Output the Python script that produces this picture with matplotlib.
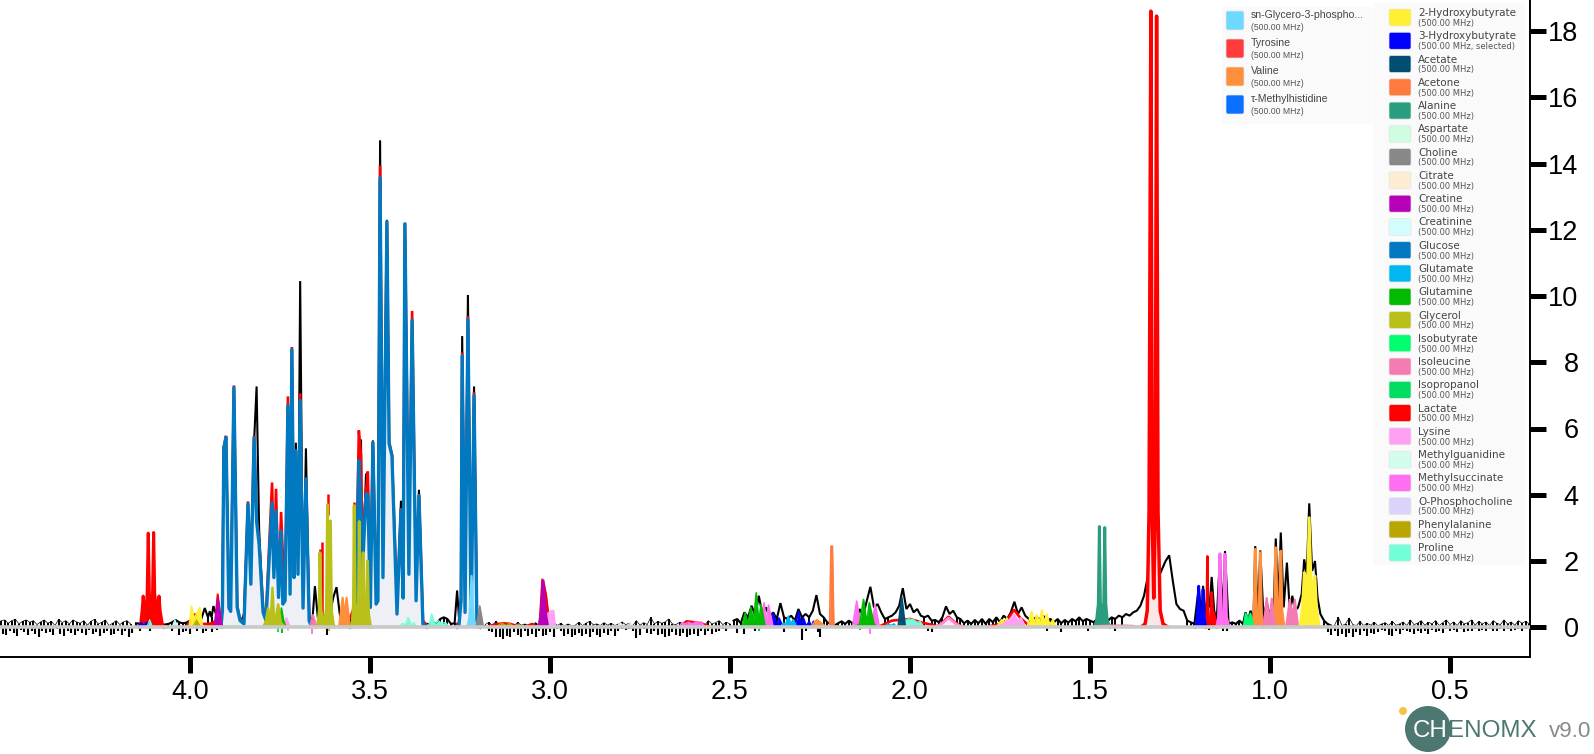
import numpy as np
import matplotlib
matplotlib.use("Agg")
import matplotlib.pyplot as plt
from matplotlib.patches import FancyBboxPatch, Rectangle, Circle

# ---------- legend contents ----------
legend_left_names = ["sn-Glycero-3-phospho...", "Tyrosine", "Valine", "τ-Methylhistidine"]
legend_left_colors = ["#6fd8ff", "#ff3b3b", "#ff8f3a", "#0a70ff"]
legend_right_names = ["2-Hydroxybutyrate", "3-Hydroxybutyrate", "Acetate", "Acetone", "Alanine", "Aspartate",
                      "Choline", "Citrate", "Creatine", "Creatinine", "Glucose", "Glutamate", "Glutamine",
                      "Glycerol", "Isobutyrate", "Isoleucine", "Isopropanol", "Lactate", "Lysine",
                      "Methylguanidine", "Methylsuccinate", "O-Phosphocholine", "Phenylalanine", "Proline"]
legend_right_colors = ["#fff033", "#0000ff", "#004f73", "#ff7a3d", "#2a9d7f", "#d0fde2", "#888888", "#feecd2",
                       "#b800b8", "#d2fdfd", "#0079c1", "#00b7f1", "#00bb00", "#b9c01a", "#00ff6e", "#f47ab2",
                       "#00dd60", "#ff0000", "#ffa0f2", "#d2fdec", "#ff6ef0", "#dcd2fa", "#baa600", "#70ffd8"]
y_ticks = [0, 2, 4, 6, 8, 10, 12, 14, 16, 18]
x_ticks = [4.0, 3.5, 3.0, 2.5, 2.0, 1.5, 1.0, 0.5]

# ---------- main sugar clusters: vertices, fit, sum of fits, observed ----------
cl_a_ppm = [3.914,3.91,3.906,3.900,3.892,3.887,3.878,3.869,3.861,3.85,3.839,3.831,3.822,3.815,3.808,3.797,3.789,
            3.772,3.767,3.761,3.754,3.747,3.742,3.736,3.728,3.722,3.717,3.711,3.706,3.7,3.694,3.686,3.678,3.669,3.664]
cl_a_glc = [.02,.5,5.42,5.73,.58,.48,7.24,.6,.2,.1,3.72,1.3,5.72,3.2,2.5,.45,.2,
            3.75,1.5,3.5,.9,2.9,.7,.8,6.7,1.0,8.39,1.5,5.33,1.6,6.85,.58,4.48,.2,.05]
cl_a_sum = [.1,.5,5.45,5.78,.6,.5,7.3,.65,.25,.15,3.8,1.6,5.78,3.3,2.55,.6,.35,
            4.37,1.8,4.18,1.0,3.48,2.15,.9,6.97,1.2,8.46,1.7,5.35,1.8,7.06,.7,4.5,.35,.1]
cl_a_obs = [.1,.5,5.4,5.7,.5,.45,7.2,.5,.1,.4,3.6,1.2,5.6,7.27,2.97,.4,.2,
            3.7,1.4,3.4,.8,2.8,.6,.7,6.6,.9,8.3,1.4,5.57,1.5,10.45,.55,5.4,.3,.25]

cl_b_ppm = [3.555,3.54,3.531,3.525,3.522,3.511,3.506,3.499,3.492,3.483,3.478,3.472,3.464,3.453,3.447,3.439,
            3.425,3.414,3.408,3.403,3.392,3.383,3.372,3.364,3.353,3.342]
cl_b_glc = [0,.1,5.03,3.5,1.5,4.03,4.0,.6,5.57,.7,.8,13.57,1.5,12.24,5.55,5.18,
            .4,3.53,.88,12.18,1.6,9.27,.8,3.97,.1,0]
cl_b_sum = [.3,.7,5.94,5.2,2.6,4.1,4.7,.9,5.6,1.2,1.2,13.94,2.1,12.24,5.6,5.2,
            .6,3.6,1.0,12.2,2.0,9.55,1.0,4.0,.2,.05]
cl_b_obs = [.2,.5,5.0,5.67,1.4,4.64,3.9,.5,5.64,.6,.7,14.7,1.2,12.3,5.27,5.27,
            .3,3.82,.8,12.15,1.3,9.2,.7,4.15,.1,.1]

cl_c_ppm = [3.258,3.253,3.247,3.244,3.236,3.228,3.219,3.211,3.203,3.194]
cl_c_glc = [0,.05,.8,8.2,.45,9.3,.1,7.0,.05,0]
cl_c_sum = [.1,.1,.9,8.3,.7,9.4,.3,7.1,.15,.05]
cl_c_obs = [1.11,.3,.9,8.79,.4,10.03,.1,7.27,.1,.1]

# ---------- observed spectrum, positive side, by region ----------
obs_1_ppm = [4.525,4.515,4.505,4.495,4.485,4.475,4.465,4.455,4.445,4.435,4.425,4.415,4.405,4.395,4.385,4.375,4.365,4.355,4.345,
             4.335,4.325,4.315,4.305,4.295,4.285,4.275,4.265,4.255,4.245,4.235,4.225,4.215,4.205,4.195,4.185,4.175,4.165,
             4.15,4.13,4.11,4.09,4.06,4.05,4.04,4.03,4.02,4.01,4.0,3.99,3.98,3.97,3.959,3.95,3.945,3.94,3.935,3.925]
obs_1_y = [.2,.22,.12,.2,.24,.1,.18,.22,.15,.2,.08,.16,.22,.12,.18,.05,.24,.14,.2,
           .1,.22,.16,.12,.2,.06,.18,.24,.1,.15,.22,.05,.12,.2,.08,.16,.2,.1,
           .12,.1,.08,.05,.1,.15,.22,.15,.12,.14,.2,.3,.2,.2,.58,.3,.48,.3,.64,.3]
obs_gap1_ppm = [3.66,3.653,3.645,3.635,3.625,3.615,3.602,3.593,3.584,3.575,3.565,3.556]
obs_gap1_y = [.2,1.24,.3,.2,.35,.2,.9,1.21,.4,.1,.1,.2]
obs_gap2_ppm = [3.335,3.325,3.315,3.305,3.295,3.285,3.275,3.265]
obs_gap2_y = [.1,.15,.1,.25,.3,.25,.1,.12]
obs_2_y = [.1,.08,.15,.05,.18,.06,.1,.05,.12,.04,.15,.06,.1,.05,.08,.14,.05,.12,.05,.08,.16,.05,.12,.04,.1,
           .05,.06,.15,.05,.12,.18,.08,.1,.05,.14,.06,.12,.05,.1,.16,.08,.12,.05,.2,.06,.14,.08,.3,.1,.18,
           .12,.16,.25,.1,.08,.15,.05,.12,.18,.08,.1,.16,.06,.2,.1,.14,.2,.08,.15,.1,.2]
obs_3_y = [.25,.12,.45,.3,.65,.35,.95,.4,.6,.3,.45,.25,.73,.3,.25,.35,.2,.55,.3,.4,.3,.5,.97,.4,.3,.15,.1,.05,.12,.18,
           .1,.2,.12,.15,.55,.35,.8,1.22,.6,.7,.45,.25,.3,.35,.45,.65,1.18,.55,.7,.45,.55,.35,.3,.35,.2,.22,.15,.3,
           .63,.4,.5,.3,.25,.12,.2,.1,.22,.12,.25,.1,.25,.15,.3,.15,.35,.25,.45,.77,.4,.6,.35,.25,.2,.3,.25,.35,.2,
           .25,.15,.25,.12,.22,.14,.25,.18,.3,.18,.25,.2]
obs_4_y = [.15,.25,.2,.3,.2,.3,.25,.35,.3,.4,.35,.45,.5,.65,.95,1.5,2.0,1.5,1.5,1.75,2.0,2.17,1.4,.7,.55,.5,.2,.15]
obs_5_ppm = [1.21,1.198,1.19,1.186,1.178,1.174,1.168,1.162,1.155,1.148,1.139,1.132,1.125,1.115,1.105,1.095,1.085,1.075,
             1.068,1.061,1.054,1.046,1.041,1.034,1.027,1.018,1.009,1.0,.995,.99,.984,.977,.970,.962,.953,.945,.938,.931,
             .922,.912,.905,.898,.891,.883,.875,.868,.86,.85,.84]
obs_5_y = [.1,1.2,.3,1.25,.2,1.0,.6,1.52,.5,.2,2.15,.3,2.3,.1,.15,.1,.2,.1,
           .45,.2,.5,.2,2.45,.3,2.32,.3,.75,.3,.7,.4,2.68,.7,2.86,.6,1.95,.5,.95,.5,
           .6,1.0,2.05,1.6,3.74,1.7,2.0,.9,.4,.2,.1]
obs_6_y = [.05,.08,.3,.05,.1,.28,.08,.05,.18,.05,.12,.06,.15,.04,.1,.14,.05,.18,.06,.1,.16,.05,.22,.08,.12,.2,.06,.15,.1,.2,
           .05,.14,.22,.08,.16,.05,.2,.1,.14,.22,.06,.18,.1,.16,.05,.2,.12,.08,.22,.1,.16,.06,.2,.12,.18,.1]

# ---------- observed spectrum, negative side ----------
neg_1_y = [-.2,-.22,-.1,-.18,-.25,-.08,-.15,-.22,-.12,-.2,-.28,-.1,-.18,-.14,-.22,-.06,-.2,-.25,-.12,-.18,-.24,-.1,-.16,-.22,
           -.08,-.2,-.14,-.26,-.18,-.1,-.22,-.2,-.12,-.24,-.1,-.28,-.16]
neg_sparse_ppm = [4.14,4.11,4.05,4.03,4.02,4.01,4.0,3.98,3.965,3.955,3.94,3.925,3.62,2.94,2.75,1.95,1.94,1.62,1.58,1.505,
                  1.43,1.17,1.13,1.12,2.29,2.3,2.255,2.25,2.48,2.46,2.43,2.35]
neg_sparse_y = [-.1,-.12,-.1,-.22,-.15,-.12,-.2,-.1,-.18,-.12,-.15,-.08,-.22,-.1,-.22,-.12,-.15,-.12,-.15,-.1,
                -.1,-.08,-.12,-.1,-.12,-.38,-.15,-.3,-.18,-.2,-.12,-.15]
neg_2_y = [-.12,-.15,-.28,-.3,-.35,-.25,-.3,-.15,-.22,-.28,-.12,-.26,-.2,-.3,-.1,-.25,-.22,-.15,-.28,-.05,-.1,
           -.25,-.2,-.28,-.22,-.18,-.26,-.2,-.28,-.15,-.24,-.3,-.18,-.22,-.12,-.25,-.1,-.05,-.08,-.05,-.12,-.32,-.08,-.05,-.18,
           -.2,-.12,-.24,-.2,-.28,-.25,-.15,-.22,-.25,-.18,-.28,-.22,-.2,-.25,-.12,-.22,-.1,-.2,-.15,-.12,-.05,-.12]
neg_3_y = [-.15,-.22,-.12,-.25,-.2,-.28,-.18,-.3,-.15,-.22,-.12,-.25,-.18,-.2,-.15,-.08,-.12,-.22,-.25,-.12,-.2,-.08,-.1,-.15,
           -.2,-.1,-.18,-.12,-.2,-.08,-.14,-.1,-.16,-.05,-.12,-.08,-.15,-.06,-.14,-.1,-.12,-.05,-.1,-.08,-.12,-.05,-.1,-.12,
           -.06,-.1,-.05,-.12,-.08,-.04,-.1,-.06]
neg_color_ppm = [3.755,3.745,3.728,3.66,3.615,2.42,2.11,2.14]
neg_color_y = [-.15,-.18,-.12,-.2,-.1,-.12,-.2,-.08]
neg_color_c = ["#00dd60","#00bb00","#ffa0f2","#f47ab2","#b9c01a","#00bb00","#ff6ef0","#00bb00"]

# ---------- other compounds: peak vertices ----------
tyr_ppm = [4.142,4.137,4.133,4.13,4.127,4.123,4.119,4.116,4.113,4.108,4.104,4.101,4.098,4.093,4.089,4.086,4.083,4.077,4.072]
tyr_y = [0,.1,.5,.94,.5,.38,1.0,2.84,1.0,.8,1.0,2.86,1.0,.5,.6,.94,.5,.1,0]
sum_segments = [
    ([4.01,3.985,3.97,3.95,3.935,3.92,3.905],[.03,.4,.1,.1,.12,.2,.05]),
    ([3.17,3.155,3.13,3.11,3.09],[.03,.08,.12,.1,.03]),
    ([3.065,3.05,3.04],[.03,.1,.03]),
    ([2.64,2.62,2.58,2.56],[.03,.18,.12,.03]),
    ([2.08,2.05,2.0,1.97,1.95,1.93],[.05,.2,.25,.15,.1,.05]),
    ([1.925,1.91,1.893,1.875,1.855],[.02,.14,.32,.14,.02]),
    ([1.78,1.74,1.725,1.711,1.695,1.67],[.03,.12,.3,.53,.3,.05]),
]
proline_sets = [
    ([4.12,4.112,4.104],[0,.23,0]),
    ([3.42,3.41,3.402,3.394,3.386,3.378,3.37],[0,.12,.08,.3,.08,.14,0]),
    ([3.345,3.335,3.329,3.32,3.31,3.3,3.29,3.28],[0,.12,.41,.1,.2,.12,.15,0]),
    ([2.035,2.018,2.004,1.99,1.98,1.972,1.96],[0,.2,.26,.23,.15,.18,0]),
]
btn3_ppm = [4.15,4.14,4.135,4.128,4.12,4.113,4.105]
btn3_y = [0,.08,.14,.05,.15,.1,0]
hb3_a_ppm = [1.207,1.202,1.198,1.195,1.191,1.188,1.186,1.183,1.178]
hb3_a_y = [0,.3,1.24,.3,.2,.3,1.14,.3,0]
hb3_ppm = [2.414,2.409,2.401,2.393,2.386,2.379,2.371,2.364,2.352]
hb3_y = [0,.2,.05,.2,.05,.43,.05,.28,0]
hb3b_ppm = [2.32,2.309,2.302,2.296,2.288,2.28,2.274,2.268,2.26]
hb3b_y = [0,.48,.05,.28,.03,.18,.03,.18,0]
hb2_a_ppm = [4.002,3.996,3.988,3.982,3.973,3.965]
hb2_a_y = [0,.64,.25,.4,.6,0]
hb2_b_ppm = [1.76,1.745,1.738,1.731,1.72,1.7,1.675,1.662,1.655,1.648,1.641,1.634,1.627,1.62,1.612,1.603,1.595]
hb2_b_y = [0,.23,.12,.28,.03,.03,0,.48,.12,.38,.15,.53,.15,.4,.08,.23,0]
hb2_c_ppm = [.917,.91,.907,.905,.901,.896,.891,.886,.88,.875,.871,.863]
hb2_c_y = [0,.6,1.2,1.65,1.3,1.4,3.31,1.4,1.3,1.55,.6,0]
ala_ppm = [1.488,1.482,1.477,1.474,1.471,1.467,1.462,1.459,1.456,1.452,1.444]
ala_y = [0,.2,.7,3.04,.7,.6,.7,3.01,.7,.2,0]
lac_ppm = [1.355,1.347,1.341,1.336,1.331,1.327,1.323,1.319,1.315,1.311,1.305,1.297,1.287]
lac_y = [.03,.1,.5,3.5,18.6,3.2,.88,3.2,18.45,3.5,.5,.1,.03]
lac_b_ppm = [1.18,1.176,1.174,1.172,1.168,1.165,1.162,1.159,1.155,1.147]
lac_b_y = [0,.3,2.14,.3,.2,.3,1.05,.5,.4,0]
lac_c_ppm = [3.96,3.945,3.93,3.92,3.908]
lac_c_y = [.02,.1,.2,.16,.02]
mesuc_a_ppm = [1.148,1.143,1.139,1.136,1.132,1.128,1.125,1.121,1.114]
mesuc_a_y = [0,.3,2.22,.4,.2,.4,2.2,.3,0]
mesuc_b_ppm = [2.64,2.634,2.625,2.615,2.605,2.595,2.585,2.579,2.57]
mesuc_b_y = [0,.14,.1,.15,.1,.16,.12,.15,0]
mesuc_c_ppm = [2.16,2.148,2.138,2.12,2.105,2.097,2.085]
mesuc_c_y = [0,.79,.1,.05,.1,.69,0]
glutamine_a_ppm = [2.477,2.466,2.458,2.45,2.442,2.435,2.427,2.42,2.414,2.402]
glutamine_a_y = [0,.05,.43,.1,.6,.15,1.04,.12,.69,0]
glutamine_b_ppm = [2.155,2.14,2.129,2.12,2.113,2.1,2.092]
glutamine_b_y = [0,.1,.84,.12,.74,.1,0]
glutamine_c_ppm = [3.762,3.755,3.75,3.746,3.74,3.733]
glutamine_c_y = [0,.25,.15,.58,.2,0]
glycerol_a_ppm = [3.797,3.79,3.783,3.778,3.775,3.771,3.767,3.762,3.755,3.748,3.736]
glycerol_a_y = [0,.15,.58,.25,.35,1.19,.35,.25,.69,.15,0]
glycerol_b_ppm = [3.65,3.645,3.641,3.639,3.636,3.63,3.625,3.621,3.618,3.615,3.612,3.61,3.607,3.602,3.598]
glycerol_b_y = [0,.1,.5,2.25,.5,.25,.2,.6,3.7,.9,.9,3.21,.5,.1,0]
glycerol_c_ppm = [3.553,3.549,3.546,3.544,3.541,3.535,3.532,3.53,3.527,3.522,3.519,3.516,3.511,3.509,3.507,3.504,3.498]
glycerol_c_y = [0,.2,.7,3.67,.7,.5,.7,3.19,.6,.6,2.25,.5,.4,.6,2.0,.4,0]
tyr_tips_ppm = [3.639,3.632,3.618,3.544]
tyr_tips_base = [2.0,.3,3.4,3.4]
tyr_tips_y = [2.35,2.56,4.02,3.77]
valine_a_ppm = [3.586,3.576,3.571,3.565,3.556]
valine_a_y = [0,.89,.3,.89,0]
valine_b_ppm = [2.275,2.259,2.245,2.232]
valine_b_y = [.03,.23,.12,0]
valine_c_ppm = [1.048,1.044,1.041,1.038,1.034,1.03,1.027,1.024,1.018]
valine_c_y = [0,.5,2.35,.5,.35,.5,2.25,.4,0]
valine_d_ppm = [.991,.987,.984,.981,.977,.973,.970,.967,.961]
valine_d_y = [0,.5,2.4,.8,.7,.8,2.3,.5,0]
acetone_ppm = [2.2235,2.2195,2.2175,2.2155,2.2115]
acetone_y = [0,2.45,2.45,2.45,0]
acetate_ppm = [2.032,2.023,2.014]
acetate_y = [.05,.89,.05]
iso_ppm = [1.018,1.009,1.002,.995,.986,.955,.945,.938,.931,.922]
iso_y = [0,.88,.1,.86,0,0,.83,.3,.83,0]
iso_low_ppm = [1.5,1.47,1.44,1.41,1.38,1.36]
iso_low_y = [.0,.05,.06,.06,.05,0]
iso_b_ppm = [3.668,3.658,3.648]
iso_b_y = [0,.38,0]
isobut_ppm = [1.074,1.068,1.061,1.054,1.046]
isobut_y = [0,.42,.25,.42,0]
lys_a_ppm = [3.03,3.02,2.996,2.99,2.985]
lys_a_y = [0,.3,.5,.5,0]
lys_b_ppm = [1.926,1.91,1.893,1.875,1.856]
lys_b_y = [0,.12,.28,.12,0]
lys_c_ppm = [1.76,1.74,1.72,1.711,1.70,1.692,1.68]
lys_c_y = [0,.1,.25,.38,.15,.28,0]
lys_d_ppm = [2.42,2.405,2.4,2.393,2.38]
lys_d_y = [0,.74,.1,.67,0]
lys_e_ppm = [3.742,3.732,3.722]
lys_e_y = [0,.28,0]
creatine_ppm = [3.031,3.025,3.019,3.012,3.006]
creatine_y = [0,.4,1.41,.4,0]
creatine_sum_ppm = [3.03,3.022,3.016,3.01,3.0]
creatine_sum_y = [0,1.45,1.3,.96,0]
creatine_b_ppm = [3.931,3.923,3.912]
creatine_b_y = [0,.86,0]
creatine_b_tip_y = [0,.99,0]
creatinine_ppm = [4.05,4.042,4.034]
creatinine_y = [0,.23,0]
glutamate_a_ppm = [2.36,2.352,2.345,2.338,2.331,2.324,2.315]
glutamate_a_y = [0,.13,.08,.33,.1,.23,0]
glutamate_b_ppm = [2.07,2.062,2.052,2.045,2.036]
glutamate_b_y = [0,.1,.05,.1,0]
sngpc_ppm = [3.23,3.224,3.218,3.212,3.206]
sngpc_y = [0,.3,1.55,.3,0]
choline_ppm = [3.205,3.195,3.185]
choline_y = [0,.64,0]
phenyl_ppm = [3.15,3.134,3.12,3.115,3.1,3.088,3.075]
phenyl_y = [0,.14,.04,.14,.03,.1,0]
phenyl_b_ppm = [3.994,3.982,3.97]
phenyl_b_y = [0,.22,0]
asp_ppm = [2.815,2.806,2.795,2.785,2.778,2.768]
asp_y = [0,.15,.03,.03,.15,0]
asp_b_ppm = [3.9,3.885,3.87,3.86]
asp_b_y = [0,.1,.1,0]

fig = plt.figure(figsize=(15.94, 7.54), dpi=100, facecolor="white")
ax = fig.add_axes([0, (754 - 657) / 754, 1530 / 1594, 657 / 754])
ax.set_xlim(4 + 190 / 360, 4 - 1340 / 360)
ax.set_ylim((627.25 - 657) / 33.125, 627.25 / 33.125)

# observed spectrum assembled in descending ppm
obs_2_ppm = np.linspace(3.19, 2.49, len(obs_2_y))
obs_3_ppm = np.linspace(2.48, 1.50, len(obs_3_y))
obs_4_ppm = np.linspace(1.49, 1.22, len(obs_4_y))
obs_6_ppm = np.linspace(.83, .28, len(obs_6_y))
obs_x = np.concatenate([obs_1_ppm, cl_a_ppm, obs_gap1_ppm, cl_b_ppm, obs_gap2_ppm, cl_c_ppm, obs_2_ppm, obs_3_ppm,
                        obs_4_ppm, obs_5_ppm, obs_6_ppm])
obs_v = np.concatenate([obs_1_y, cl_a_obs, obs_gap1_y, cl_b_obs, obs_gap2_y, cl_c_obs, obs_2_y, obs_3_y,
                        obs_4_y, obs_5_y, obs_6_y])
# thin trace with a comb in the pure-noise regions, heavy trace elsewhere
quiet = (obs_x > 4.16) | ((obs_x < 3.185) & (obs_x > 2.49)) | (obs_x < .83)
ax.plot(obs_x, np.where(quiet, np.nan, obs_v), color="black", lw=1.5, solid_joinstyle="bevel", zorder=2)
ax.plot(obs_x, np.where(quiet, obs_v, np.nan), color="black", lw=.5, zorder=2)
comb = obs_v < .34
ax.vlines(obs_x[comb], 0, obs_v[comb], color="black", lw=1.4, zorder=2)
neg_sets = [(np.linspace(4.52, 4.16, len(neg_1_y)), neg_1_y), (np.linspace(3.17, 2.51, len(neg_2_y)), neg_2_y),
            (np.linspace(.84, .29, len(neg_3_y)), neg_3_y), (neg_sparse_ppm, neg_sparse_y)]
for nx, ny in neg_sets:
    ax.vlines(nx, ny, 0, color="black", lw=1.5, zorder=2)
ax.vlines(neg_color_ppm, neg_color_y, 0, colors=neg_color_c, lw=1.3, zorder=2)

# sum of fits
for sx, sy in [(cl_a_ppm, cl_a_sum), (cl_b_ppm, cl_b_sum), (cl_c_ppm, cl_c_sum)] + sum_segments:
    ax.plot(sx, sy, color="#ff0000", lw=1.9, solid_joinstyle="bevel", zorder=3)

def area(px, py, color, fill=None, lw=1.2, z=5):
    ax.fill_between(px, py, 0, color=fill if fill else color, lw=0, zorder=z)
    ax.plot(px, py, color=color, lw=lw, zorder=z, solid_joinstyle="round")

# glucose with pale fill
for gx, gy in [(cl_a_ppm, cl_a_glc), (cl_b_ppm, cl_b_glc), (cl_c_ppm, cl_c_glc)]:
    area(gx, gy, "#0079c1", fill="#eef0f6", lw=2.4, z=4)

area(lac_ppm, lac_y, "#ff0000", fill="#fde6e6", lw=2.5)
area(tyr_ppm, tyr_y, "#ff0000", lw=2.2)
area(lac_b_ppm, lac_b_y, "#ff0000", lw=1.8)
area(lac_c_ppm, lac_c_y, "#ff0000", lw=1.2)
area(btn3_ppm, btn3_y, "#0000ff")
area(hb3_a_ppm, hb3_a_y, "#0000ff", lw=2.0)
area(hb3_ppm, hb3_y, "#0000ff")
area(hb3b_ppm, hb3b_y, "#0000ff")
area(glutamate_a_ppm, glutamate_a_y, "#00b7f1")
area(glutamate_b_ppm, glutamate_b_y, "#00b7f1")
for px, py in proline_sets:
    area(px, py, "#70ffd8", lw=.8)
area(asp_ppm, asp_y, "#d0fde2", lw=.8)
area(asp_b_ppm, asp_b_y, "#d0fde2", lw=.8)
area(creatinine_ppm, creatinine_y, "#c8f8f8", lw=.8)
area(mesuc_b_ppm, mesuc_b_y, "#ff6ef0")
area(mesuc_c_ppm, mesuc_c_y, "#ff6ef0")
area(lys_d_ppm, lys_d_y, "#ff6ef0")
area(lys_a_ppm, lys_a_y, "#ffa0f2")
area(lys_e_ppm, lys_e_y, "#ffa0f2")
area(glutamine_a_ppm, glutamine_a_y, "#00bb00")
area(glutamine_b_ppm, glutamine_b_y, "#00bb00")
area(glutamine_c_ppm, glutamine_c_y, "#00bb00")
ax.vlines(tyr_tips_ppm, tyr_tips_base, tyr_tips_y, color="#ff0000", lw=1.8, zorder=4)
area(glycerol_a_ppm, glycerol_a_y, "#b9c01a", lw=1.8)
area(glycerol_b_ppm, glycerol_b_y, "#b9c01a", lw=2.1)
area(glycerol_c_ppm, glycerol_c_y, "#b9c01a", lw=2.1)
area(valine_a_ppm, valine_a_y, "#ff8f3a", lw=1.6)
area(valine_b_ppm, valine_b_y, "#ff8f3a")
area(valine_c_ppm, valine_c_y, "#ff8f3a", lw=2.1)
area(valine_d_ppm, valine_d_y, "#ff8f3a", lw=2.1)
area(acetone_ppm, acetone_y, "#ff7a3d", lw=1.2)
area(acetate_ppm, acetate_y, "#004f73", lw=1.5)
area(ala_ppm, ala_y, "#2a9d7f", lw=2.1)
area(iso_ppm, iso_y, "#f47ab2", lw=1.6)
area(iso_low_ppm, iso_low_y, "#f47ab2")
area(iso_b_ppm, iso_b_y, "#f47ab2")
area(isobut_ppm, isobut_y, "#00ff6e")
area(mesuc_a_ppm, mesuc_a_y, "#ff6ef0", lw=2.1)
area(creatine_sum_ppm, creatine_sum_y, "#ff0000", lw=1.2, z=4)
area(creatine_ppm, creatine_y, "#b800b8", lw=2.0)
area(creatine_b_ppm, creatine_b_tip_y, "#ff0000", lw=1.5, z=4)
area(creatine_b_ppm, creatine_b_y, "#b800b8", lw=1.5)
area(hb2_a_ppm, hb2_a_y, "#fff033")
area(hb2_b_ppm, hb2_b_y, "#fff033")
area(hb2_c_ppm, hb2_c_y, "#fff033", lw=2.0)
area(phenyl_ppm, phenyl_y, "#baa600", lw=.8)
area(phenyl_b_ppm, phenyl_b_y, "#baa600", lw=.8)
area(lys_b_ppm, lys_b_y, "#ff8be0", fill="#fde8f6", lw=2.0)
area(lys_c_ppm, lys_c_y, "#ffa0f2", lw=1.6)
area(sngpc_ppm, sngpc_y, "#6fd8ff", lw=1.5)
area(choline_ppm, choline_y, "#888888", lw=1.2)

ax.axhline(0, color="#c9c9c9", lw=2.6, zorder=8)

for s in ["left", "top"]:
    ax.spines[s].set_visible(False)
for s in ["right", "bottom"]:
    ax.spines[s].set_linewidth(1.4)
ax.yaxis.tick_right()
ax.set_yticks(y_ticks)
ax.set_xticks(x_ticks)
ax.set_xticklabels([f"{v:.1f}" for v in x_ticks])
ax.tick_params(axis="both", length=11.5, width=3.6, labelsize=19.5, color="black")
ax.tick_params(axis="y", pad=23.5)
ax.tick_params(axis="x", pad=4)
for lb in ax.get_xticklabels() + ax.get_yticklabels():
    lb.set_family("Liberation Sans")
for lb in ax.get_yticklabels():
    lb.set_ha("right")

# overlay in pixel coordinates for legend panels and logo
ov = fig.add_axes([0, 0, 1, 1], facecolor="none")
ov.set_xlim(0, 1594)
ov.set_ylim(754, 0)
ov.axis("off")

ov.add_patch(Rectangle((1222, 7), 150, 117, color="#fafafa", lw=0, zorder=1))
for i, (nm, c) in enumerate(zip(legend_left_names, legend_left_colors)):
    y0 = 10 + i * 28
    ov.add_patch(FancyBboxPatch((1226, y0 + 1), 18, 19, boxstyle="round,pad=0,rounding_size=2", fc=c, ec="#e6e6e6", lw=.5, zorder=2))
    ov.text(1251, y0 + 5.5, nm, fontsize=7.6, family=["Liberation Sans", "DejaVu Sans"], color="#444444", va="center", zorder=3)
    ov.text(1251, y0 + 18, "(500.00 MHz)", fontsize=6.2, family="Liberation Sans", color="#555555", va="center", zorder=3)

ov.add_patch(Rectangle((1373, 3), 152, 562, color="#fafafa", lw=0, zorder=1))
for i, (nm, c) in enumerate(zip(legend_right_names, legend_right_colors)):
    y0 = 9 + i * 23.27
    sub = "(500.00 MHz, selected)" if nm == "3-Hydroxybutyrate" else "(500.00 MHz)"
    ov.add_patch(FancyBboxPatch((1389, y0), 22, 17, boxstyle="round,pad=0,rounding_size=2", fc=c, ec="#e6e6e6", lw=.5, zorder=2))
    ov.text(1418, y0 + 4, nm, fontsize=7.5, family="DejaVu Sans", color="#444444", va="center", zorder=3)
    ov.text(1418, y0 + 14.3, sub, fontsize=6.0, family="DejaVu Sans", color="#555555", va="center", zorder=3)

# logo
ov.add_patch(Circle((1403, 711), 4, fc="#f5c242", ec="none", zorder=2))
ov.add_patch(Circle((1428, 729), 23, fc="#4d7872", ec="none", zorder=2))
ov.text(1413, 737, "CH", fontsize=17.4, family="Liberation Sans", color="white", va="baseline", zorder=3)
ov.text(1448, 737, "ENOMX", fontsize=17.4, family="Liberation Sans", color="#4d7872", va="baseline", zorder=3)
ov.text(1549, 737, "v9.0", fontsize=16.2, family="Liberation Sans", color="#8a8a8a", va="baseline", zorder=3)

fig.savefig("out.png", dpi=100)
